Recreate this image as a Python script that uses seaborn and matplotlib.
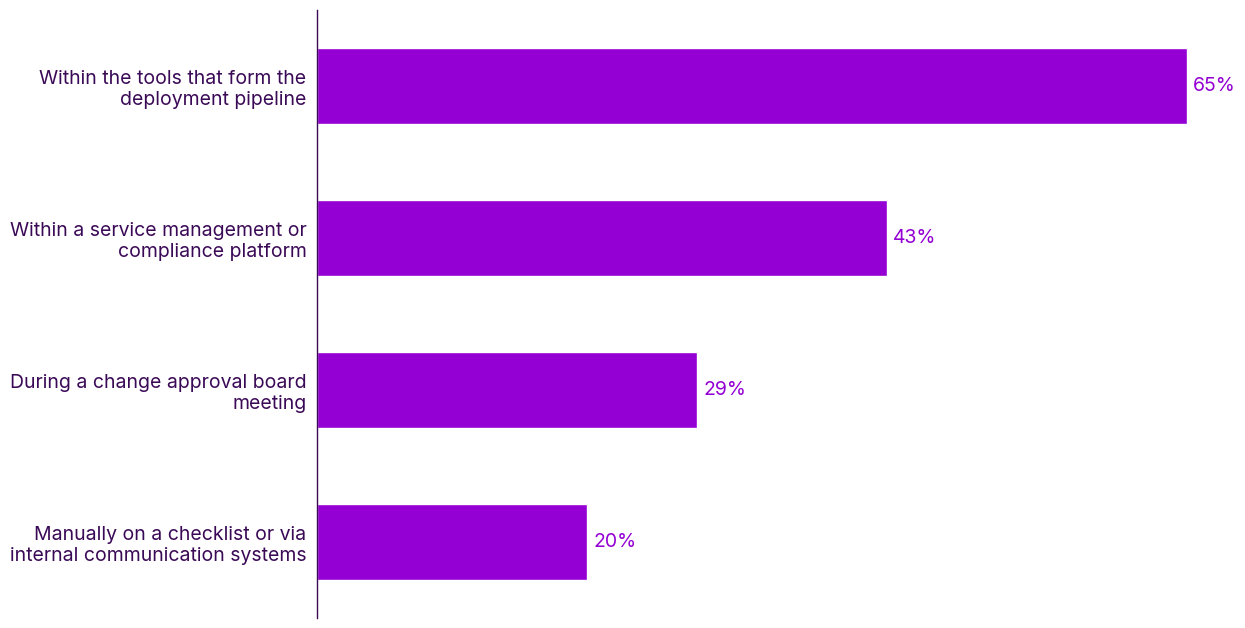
import matplotlib
matplotlib.use("Agg")
import matplotlib.pyplot as plt
import seaborn as sns
import pandas as pd

categories = [
    "Within the tools that form the\ndeployment pipeline",
    "Within a service management or\ncompliance platform",
    "During a change approval board\nmeeting",
    "Manually on a checklist or via\ninternal communication systems",
]
# bar lengths, labels as printed
values = [65.0, 42.6, 28.4, 20.2]
labels = ["65%", "43%", "29%", "20%"]

bar_color = "#9400D3"
text_color = "#3B0A57"

sns.set_theme(style="white")
plt.rcParams["font.family"] = ["Inter", "DejaVu Sans"]

df = pd.DataFrame({"category": categories, "value": values})

fig = plt.figure(figsize=(12.45, 6.28), dpi=100)
ax = fig.add_axes([317 / 1245, 1 - 618 / 628, 1 - 317 / 1245, 608 / 628])

sns.barplot(data=df, x="value", y="category", color=bar_color, width=0.5,
            saturation=1, ax=ax, orient="h")

for i, (v, lab) in enumerate(zip(values, labels)):
    ax.text(v + 0.45, i, lab, va="center", ha="left", fontsize=14, color=bar_color)

ax.set_xlim(0, 928 / 13.385)
ax.set_ylim(3.5, -0.5)
ax.set_xlabel("")
ax.set_ylabel("")
ax.set_xticks([])
ax.tick_params(axis="y", length=0, pad=7.5, labelsize=14, labelcolor=text_color)
for t in ax.get_yticklabels():
    t.set_horizontalalignment("right")
for s in ["top", "right", "bottom"]:
    ax.spines[s].set_visible(False)
ax.spines["left"].set_color(text_color)
ax.spines["left"].set_linewidth(1)

fig.savefig("out.png", dpi=100)
